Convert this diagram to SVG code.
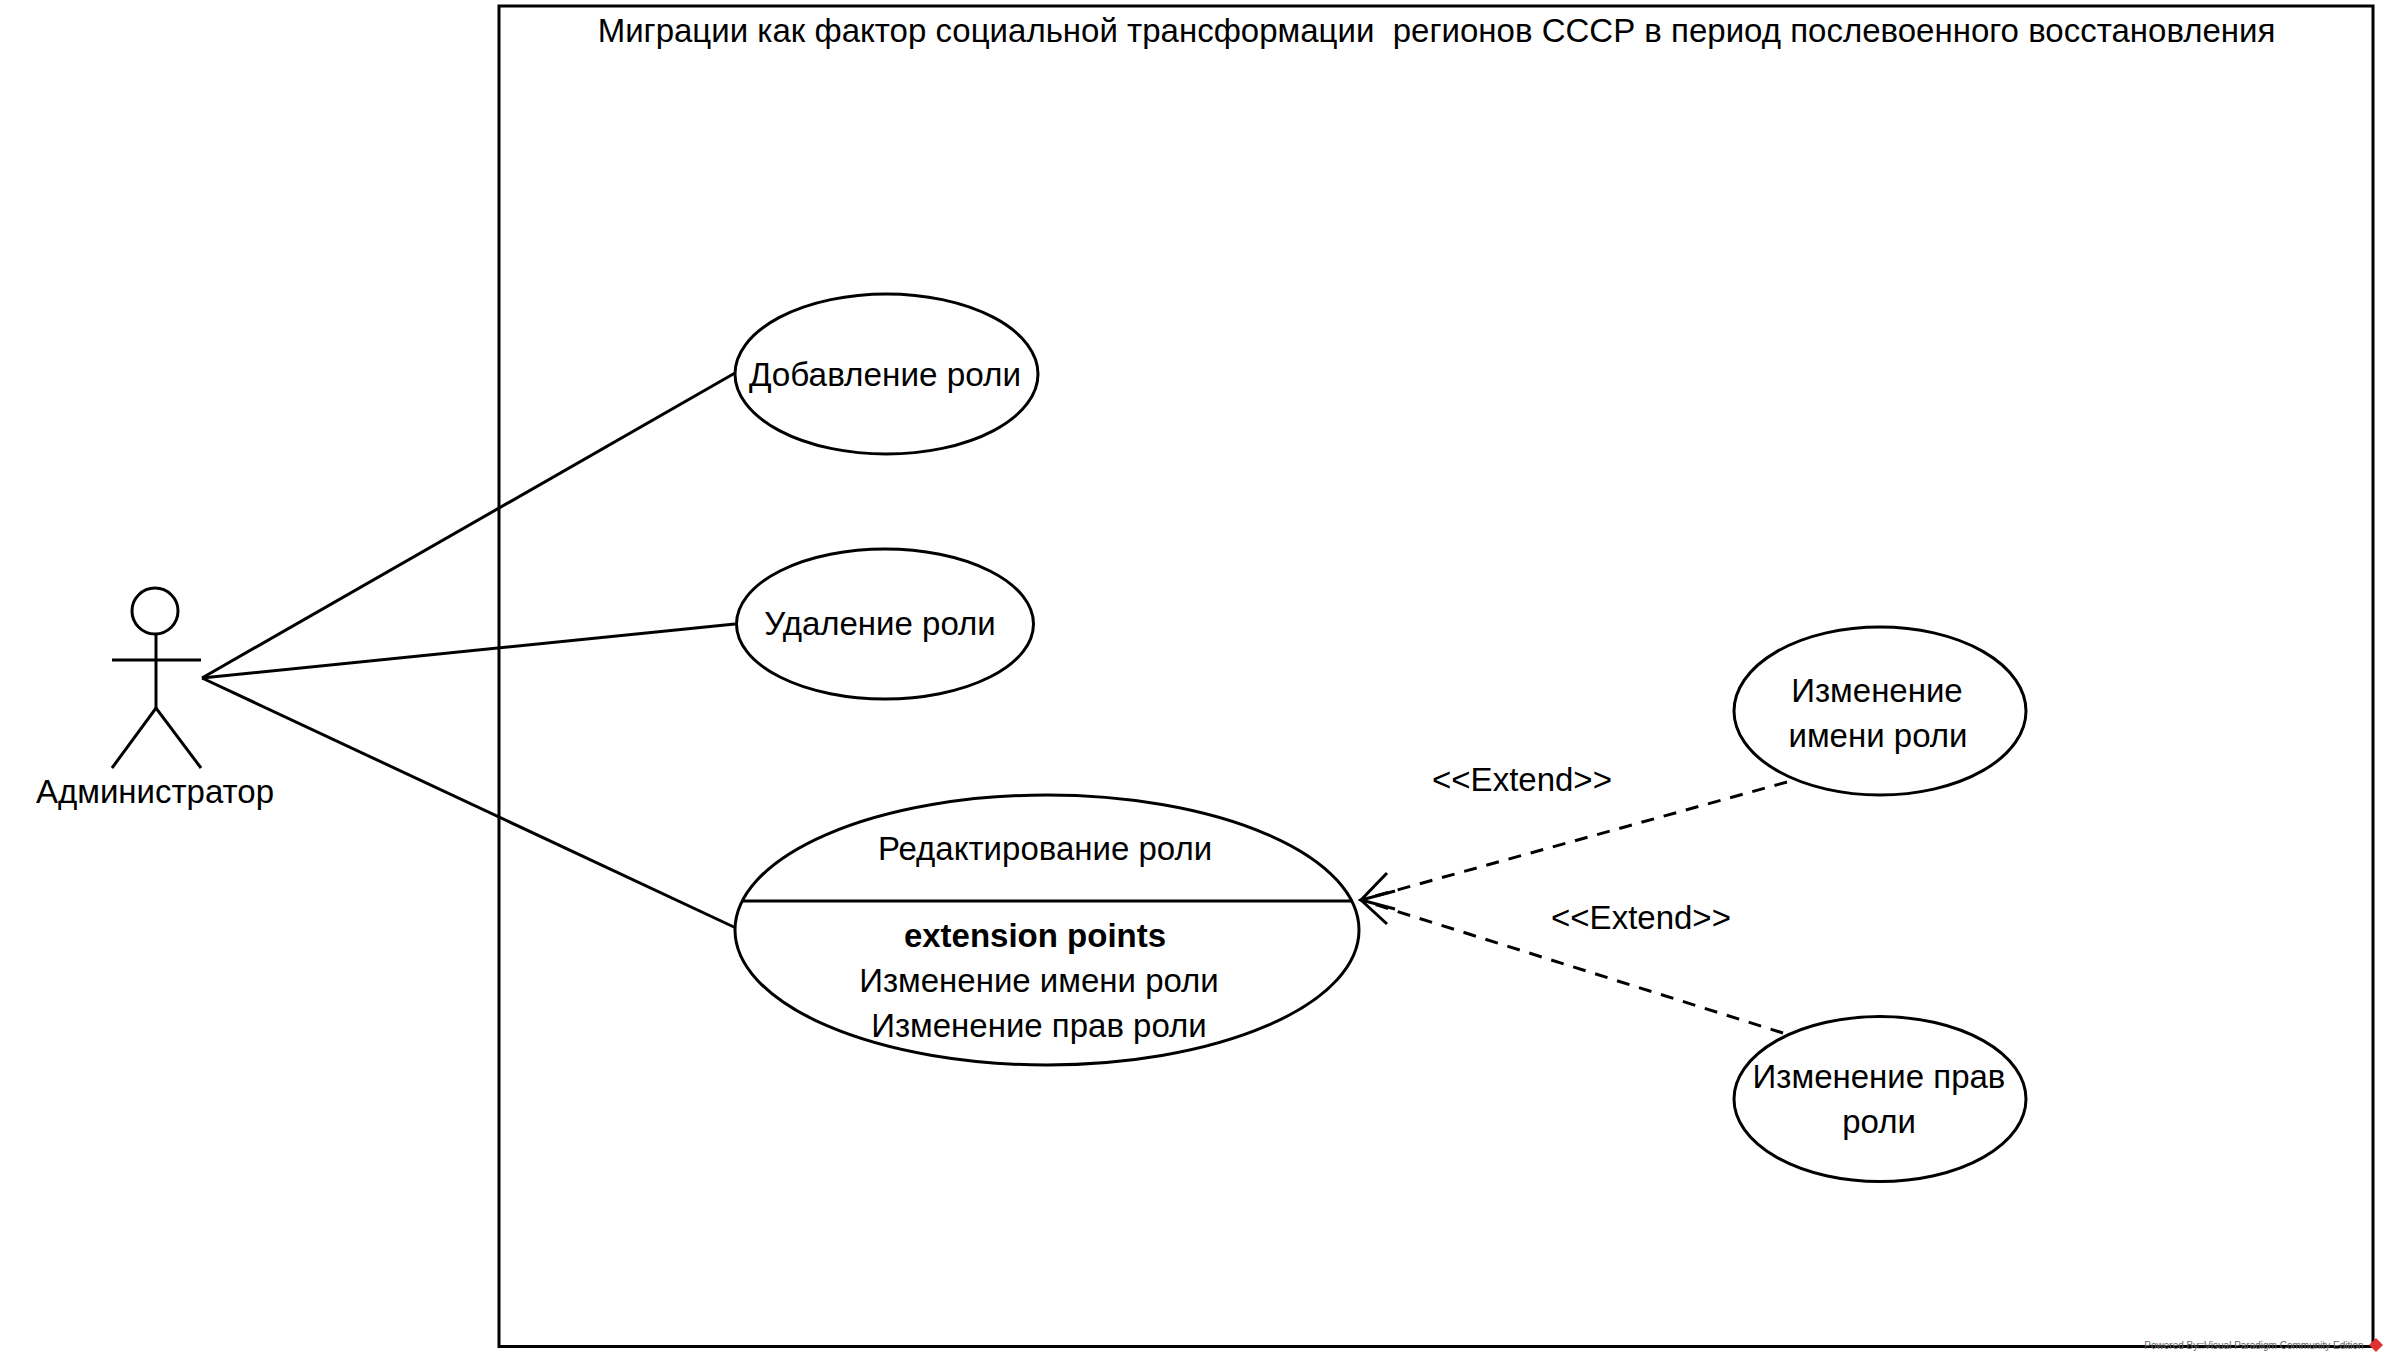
<svg xmlns="http://www.w3.org/2000/svg" width="2388" height="1362" viewBox="0 0 2388 1362">
<style>
text{font-family:"Liberation Sans",Arial,sans-serif;font-size:33px;fill:#000;text-anchor:middle;white-space:pre}
.s{fill:none;stroke:#000;stroke-width:3}
.u{fill:#fff;stroke:#000;stroke-width:3}
.d{fill:none;stroke:#000;stroke-width:3;stroke-dasharray:13 10}
</style>
<rect width="2388" height="1362" fill="#fff"/>
<g id="system">
<rect class="s" x="499" y="6" width="1874" height="1340.5"/>
<text x="1436.5" y="42" style="font-size:33.03px">Миграции как фактор социальной трансформации  регионов СССР в период послевоенного восстановления</text>
</g>
<g id="connectors">
<line class="s" x1="202" y1="678" x2="735" y2="373"/>
<line class="s" x1="202" y1="678" x2="735" y2="624"/>
<line class="s" x1="202" y1="678" x2="736" y2="928"/>
<line class="d" x1="1787" y1="782" x2="1361" y2="900"/>
<line class="d" x1="1783" y1="1033" x2="1361" y2="900"/>
<polyline class="s" points="1387,873 1361,900 1395,909"/>
<polyline class="s" points="1395,891 1361,900 1387,924"/>
</g>
<g id="actor">
<circle class="s" cx="155" cy="611" r="23"/>
<line class="s" x1="156" y1="634" x2="156" y2="708"/>
<line class="s" x1="112" y1="660" x2="201" y2="660"/>
<polyline class="s" points="112,768 156,708 201,768"/>
<text x="155" y="803">Администратор</text>
</g>
<g id="uc-add">
<ellipse class="u" cx="886.5" cy="374" rx="151.5" ry="80"/>
<text x="885" y="386" style="font-size:33.3px">Добавление роли</text>
</g>
<g id="uc-delete">
<ellipse class="u" cx="885" cy="624" rx="148.5" ry="75"/>
<text x="880" y="635">Удаление роли</text>
</g>
<g id="uc-edit">
<ellipse class="u" cx="1047" cy="930" rx="312" ry="135"/>
<line class="s" x1="743" y1="901" x2="1353" y2="901"/>
<text x="1045" y="860">Редактирование роли</text>
<text x="1035" y="947" style="font-weight:bold">extension points</text>
<text x="1039" y="992">Изменение имени роли</text>
<text x="1039" y="1037">Изменение прав роли</text>
</g>
<g id="uc-rename">
<ellipse class="u" cx="1880" cy="711" rx="146" ry="84"/>
<text x="1877" y="702">Изменение</text>
<text x="1878" y="747">имени роли</text>
</g>
<g id="uc-rights">
<ellipse class="u" cx="1880" cy="1099" rx="146" ry="82.5"/>
<text x="1879" y="1088">Изменение прав</text>
<text x="1879" y="1133">роли</text>
</g>
<g id="labels">
<text x="1522" y="791">&lt;&lt;Extend&gt;&gt;</text>
<text x="1641" y="929">&lt;&lt;Extend&gt;&gt;</text>
</g>
<g id="watermark">
<text x="2254" y="1349" style="font-size:10px;fill:#666">Powered By□Visual Paradigm Community Edition</text>
<polygon points="2376,1338 2383,1345 2376,1352 2369,1345" fill="#d33"/>
</g>
</svg>
